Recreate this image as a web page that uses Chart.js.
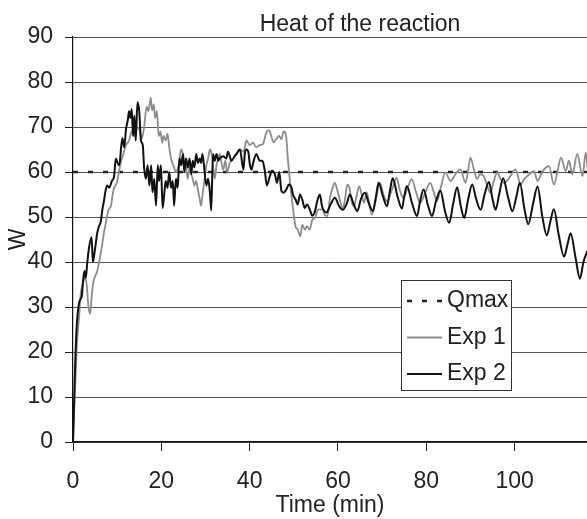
<!DOCTYPE html>
<html>
<head>
<meta charset="utf-8">
<script src="https://cdn.jsdelivr.net/npm/chart.js@4/dist/chart.umd.min.js"></script>
<style>
  html, body { margin: 0; padding: 0; background: #fff; }
  #wrap { position: relative; width: 587px; height: 519px; }
</style>
</head>
<body>
<div id="wrap"><canvas id="heatChart"></canvas></div>
<script>
// Data (time in min, heat in W)
const qmaxTime = [0, 116.4];
const qmaxPower = [60, 60];

const exp1Time = [
  0, 0.6, 0.9, 1.4, 1.7, 2.3, 2.7, 3.1, 3.5, 3.9,
  4.2, 4.6, 5.1, 5.5, 5.9, 6.3, 6.7, 7.0, 7.4, 8.0,
  8.6, 8.9, 9.3, 9.9, 10.3, 10.8, 11.4, 12.0, 12.7, 13.3,
  13.8, 14.4, 15.0, 15.6, 16.1, 16.7, 17.1, 17.6, 17.9, 18.3,
  18.6, 19.0, 19.4, 19.8, 20.2, 20.5, 21.0, 21.4, 21.8, 22.2,
  22.8, 23.3, 23.9, 24.5, 24.9, 25.2, 25.6, 26.0, 26.4, 26.8,
  27.1, 27.5, 27.9, 28.3, 28.7, 29.0, 29.4, 29.8, 30.2, 30.6,
  31.0, 31.3, 31.7, 32.1, 32.5, 32.9, 33.2, 34.0, 34.5, 34.9,
  35.5, 36.2, 37.0, 37.8, 38.6, 38.9, 39.3, 40.0, 40.8, 41.5,
  42.3, 43.0, 43.8, 44.4, 44.9, 45.4, 46.0, 46.7, 47.2, 47.7,
  48.2, 48.7, 49.2, 49.8, 50.4, 50.9, 51.5, 51.9, 52.5, 53.0,
  53.6, 54.2, 54.8, 55.3, 55.9, 56.5, 57.0, 57.6, 58.2, 58.8,
  59.3, 59.9, 60.5, 61.1, 61.6, 62.1, 62.6, 63.1, 63.6, 64.2,
  64.8, 65.4, 65.9, 66.5, 67.7, 68.6, 69.5, 70.3, 71.1, 72.2,
  73.3, 74.0, 74.8, 75.8, 76.7, 77.7, 78.6, 79.8, 80.9, 81.7,
  82.4, 83.4, 84.3, 85.5, 86.6, 87.7, 88.9, 89.5, 90.0, 90.8,
  91.5, 92.2, 93.0, 93.8, 94.5, 95.3, 96.1, 96.8, 97.6, 99.0,
  100.2, 101.4, 102.2, 102.9, 104.4, 105.2, 106.0, 106.7, 107.8, 108.9,
  109.7, 110.5, 111.6, 112.3, 113.1, 114.2, 115.4, 116.1, 116.5
];
const exp1Power = [
  0, 15, 22, 28, 32.5, 35.5, 36.5, 35, 30, 28.5,
  32, 35.5, 37, 38, 40, 42, 44.5, 46.5, 48.5, 51.5,
  52.5, 54.5, 56.5, 57.5, 59.5, 62, 64, 66, 67, 69,
  68, 70, 69.5, 67.5, 70, 74.5, 73.5, 76.5, 73.7, 75,
  72, 73.5, 68, 69, 66.5, 68, 67, 68.5, 65.5, 63,
  61.3, 60, 61.5, 65, 64, 62.5, 61, 58.5, 61, 59.5,
  58.5, 57, 58, 56, 54, 52.5, 55.5, 58.5, 61.5, 63,
  65, 64.5, 61.5, 58.5, 61.5, 63, 64, 60.5, 62.5, 60,
  62, 63, 64, 65, 64.5, 65.5, 67, 66, 66.5, 65.5,
  66, 66.2, 68.8, 69.3, 68, 66.6, 67.3, 68, 67.3, 69,
  68.4, 62.4, 57.2, 52, 47.9, 47.2, 45.7, 48.3, 47.2, 47.9,
  47.2, 49.4, 49.8, 51.3, 51.7, 51.7, 50.5, 50.2, 54.3, 56.5,
  57.6, 55.8, 53.5, 52, 53.9, 57.2, 56.5, 53.5, 52.4, 54.6,
  56.8, 54.9, 53.1, 55.5, 50.5, 54, 57.6, 55, 53.5, 56,
  58.7, 56, 54.3, 56.5, 58.4, 55.5, 53.1, 55.5, 57.6, 55.5,
  53.5, 57, 59.9, 58, 59.5, 60.6, 57.6, 60.5, 63.2, 60.5,
  58.4, 59.5, 59.1, 57, 55.4, 58, 59.9, 58.5, 57.6, 59,
  60.6, 57.2, 58.5, 59.1, 60.2, 58, 59.5, 60.6, 61.3, 57.2,
  60, 63.2, 60.2, 62.5, 59.5, 64, 59.1, 64.3, 61
];

const exp2Time = [
  0, 0.45, 0.8, 1.4, 2.0, 2.3, 2.6, 2.9, 3.2, 3.6,
  4.2, 4.5, 5.0, 5.5, 5.9, 6.3, 6.7, 7.0, 7.4, 7.8,
  8.2, 8.8, 9.3, 9.7, 10.1, 10.5, 10.9, 11.2, 11.6, 12.0,
  12.4, 12.7, 13.0, 13.3, 13.6, 13.9, 14.2, 14.6, 15.0, 15.4,
  15.8, 16.1, 16.5, 16.9, 17.3, 17.7, 18.0, 18.4, 18.8, 19.2,
  19.5, 19.9, 20.3, 20.7, 21.0, 21.4, 21.8, 22.2, 22.6, 22.9,
  23.3, 23.7, 24.1, 24.5, 24.9, 25.2, 25.6, 26.0, 26.4, 26.8,
  27.1, 27.5, 27.9, 28.3, 28.7, 29.0, 29.3, 29.6, 30.2, 30.6,
  31.0, 31.3, 31.7, 32.1, 32.5, 32.9, 33.2, 34.0, 34.7, 35.1,
  35.9, 36.6, 37.0, 37.8, 38.6, 38.9, 39.3, 39.7, 40.0, 40.4,
  40.8, 41.5, 42.3, 42.9, 43.4, 43.9, 44.5, 45.1, 45.7, 46.2,
  46.7, 47.2, 47.7, 48.3, 48.9, 49.5, 49.8, 50.4, 50.9, 51.4,
  51.9, 52.5, 53.0, 53.6, 54.2, 54.8, 55.3, 55.9, 56.4, 56.9,
  57.4, 58.2, 59.3, 60.2, 61.1, 62.0, 62.7, 63.5, 64.4, 65.2,
  66.1, 67.0, 67.9, 68.6, 69.2, 70.2, 71.1, 71.8, 72.4, 73.5,
  74.5, 75.0, 75.6, 76.8, 77.9, 78.6, 79.4, 80.4, 81.3, 82.2,
  83.2, 84.2, 85.2, 86.1, 87.0, 87.8, 88.6, 89.5, 90.4, 91.3,
  92.3, 93.2, 94.2, 95.0, 95.7, 96.5, 97.4, 98.5, 99.5, 100.4,
  101.2, 102.2, 103.1, 104.2, 105.2, 106.3, 107.3, 108.1, 108.9, 110.0,
  111.2, 112.0, 112.7, 113.8, 114.8, 115.6, 116.5
];
const exp2Power = [
  0, 16, 25, 31, 32.5, 36, 38, 36.5, 39.5, 43,
  45.5, 40, 43, 46.5, 48, 49, 52, 53.5, 56, 57,
  56.5, 58, 59, 63, 62, 61.5, 65.5, 67.5, 65.5, 69.5,
  71.5, 73.5, 72, 74, 68, 72.5, 67, 75.5, 73.5, 67,
  66, 61, 58.5, 61.5, 57, 61.5, 55.5, 58.5, 52.5, 61.5,
  58, 61.5, 52, 55.5, 58, 56.5, 60, 56.5, 58, 52.5,
  58.5, 56.5, 63, 61.5, 64, 60, 63, 61, 63, 59.5,
  62.5, 61, 64, 62, 63, 62, 64, 62, 57, 58.5,
  55.5, 51.5, 64, 62.5, 64, 62.5, 63, 63.5, 63, 64.5,
  62.5, 63.5, 64, 65, 60.5, 64, 65, 64.5, 62, 60.5,
  62, 64, 62.5, 62.5, 60.5, 57, 58.8, 60.3, 59.6, 57.6,
  60, 55.8, 55.4, 56.1, 57.2, 56.5, 55, 53.9, 52.8, 55,
  53.9, 52, 52.8, 51.7, 50.3, 51.3, 53.5, 55, 52.4, 51.3,
  51, 52.5, 54.3, 52.5, 51.6, 53, 55, 53, 51.3, 54,
  55.4, 53, 51.3, 54.5, 57.6, 54.5, 52.4, 56, 58.6, 54.5,
  51.9, 54.5, 56.9, 53, 50.2, 53.5, 56.1, 52.5, 50.2, 53.5,
  55.9, 51.5, 48.7, 53, 56.6, 52.5, 49.8, 54, 57.2, 54,
  51.6, 55, 57.8, 54, 51.6, 55, 58.6, 54.5, 51.3, 54.5,
  57.6, 52, 48.4, 53, 56.8, 50, 45.9, 49, 51.7, 46,
  41.2, 44, 46.4, 41, 36.3, 40, 42.5
];

const yTicks = [0, 10, 20, 30, 40, 50, 60, 70, 80, 90];
const xTicks = [0, 20, 40, 60, 80, 100];

const FONT = "'Liberation Sans', Arial, sans-serif";
const TEXT = '#222';

function toPoints(xs, ys) {
    return xs.map((x, i) => ({ x: x, y: ys[i] }));
}

// Chart title, drawn a bit right of the plot centre like the original
const headerTitle = {
    id: 'headerTitle',
    afterDraw(chart) {
        const ctx = chart.ctx;
        ctx.save();
        ctx.font = '23px ' + FONT;
        ctx.fillStyle = TEXT;
        ctx.textAlign = 'center';
        ctx.textBaseline = 'alphabetic';
        ctx.fillText('Heat of the reaction', 360, 31);
        ctx.restore();
    }
};

// Boxed legend sitting inside the plot
const boxLegend = {
    id: 'boxLegend',
    afterDraw(chart) {
        const ctx = chart.ctx;
        const left = 401, top = 280, w = 110, h = 110;
        ctx.save();
        ctx.fillStyle = '#fff';
        ctx.fillRect(left, top, w, h);
        ctx.strokeStyle = '#333';
        ctx.lineWidth = 1;
        ctx.strokeRect(left + 0.5, top + 0.5, w, h);
        ctx.font = '23px ' + FONT;
        ctx.textBaseline = 'middle';
        ctx.textAlign = 'left';
        chart.data.datasets.forEach((ds, i) => {
            const y = top + 21 + i * 36.5;
            ctx.beginPath();
            ctx.setLineDash(ds.borderDash || []);
            ctx.strokeStyle = ds.borderColor;
            ctx.lineWidth = ds.borderWidth;
            ctx.moveTo(left + 6, y);
            ctx.lineTo(left + 41, y);
            ctx.stroke();
            ctx.setLineDash([]);
            ctx.fillStyle = TEXT;
            ctx.fillText(ds.label, left + 46, y);
        });
        ctx.restore();
    }
};

function init() {
    const ctx = document.getElementById('heatChart').getContext('2d');
    new Chart(ctx, {
        type: 'line',
        data: {
            datasets: [
                {
                    label: 'Qmax',
                    data: toPoints(qmaxTime, qmaxPower),
                    borderColor: '#222',
                    borderWidth: 2.5,
                    borderDash: [5, 10],
                    pointRadius: 0,
                    order: 2
                },
                {
                    label: 'Exp 1',
                    data: toPoints(exp1Time, exp1Power),
                    borderColor: '#8c8c8c',
                    borderWidth: 1.8,
                    pointRadius: 0,
                    cubicInterpolationMode: 'monotone',
                    order: 1
                },
                {
                    label: 'Exp 2',
                    data: toPoints(exp2Time, exp2Power),
                    borderColor: '#111',
                    borderWidth: 2,
                    pointRadius: 0,
                    cubicInterpolationMode: 'monotone',
                    order: 0
                }
            ]
        },
        options: {
            responsive: true,
            maintainAspectRatio: false,
            animation: false,
            layout: { padding: { top: 37, right: 0, bottom: 0, left: 0 } },
            scales: {
                x: {
                    type: 'linear',
                    min: 0,
                    max: 116.4,
                    afterFit: s => { s.height = 77; },
                    afterBuildTicks: s => { s.ticks = xTicks.map(v => ({ value: v })); },
                    ticks: { color: TEXT, font: { family: FONT, size: 23 }, padding: 17, maxRotation: 0 },
                    grid: { drawOnChartArea: false, drawTicks: true, tickLength: 9, color: '#222' },
                    border: { display: true, color: '#111', width: 1.5 },
                    title: {
                        display: true,
                        text: 'Time (min)',
                        color: TEXT,
                        font: { family: FONT, size: 23 },
                        padding: { top: 0, bottom: 0 }
                    }
                },
                y: {
                    min: 0,
                    max: 90,
                    afterFit: s => { s.width = 73; },
                    afterBuildTicks: s => { s.ticks = yTicks.map(v => ({ value: v })); },
                    ticks: { color: TEXT, font: { family: FONT, size: 23 }, padding: 12 },
                    grid: { color: '#555', lineWidth: 1, tickLength: 8, tickColor: '#222' },
                    border: { display: true, color: '#111', width: 1.2 },
                    title: {
                        display: true,
                        text: 'W',
                        color: TEXT,
                        font: { family: FONT, size: 23 },
                        padding: { top: 5, bottom: 0 }
                    }
                }
            },
            plugins: {
                legend: { display: false },
                tooltip: { enabled: false }
            }
        },
        plugins: [headerTitle, boxLegend]
    });
}

window.addEventListener('DOMContentLoaded', init);
</script>
</body>
</html>
